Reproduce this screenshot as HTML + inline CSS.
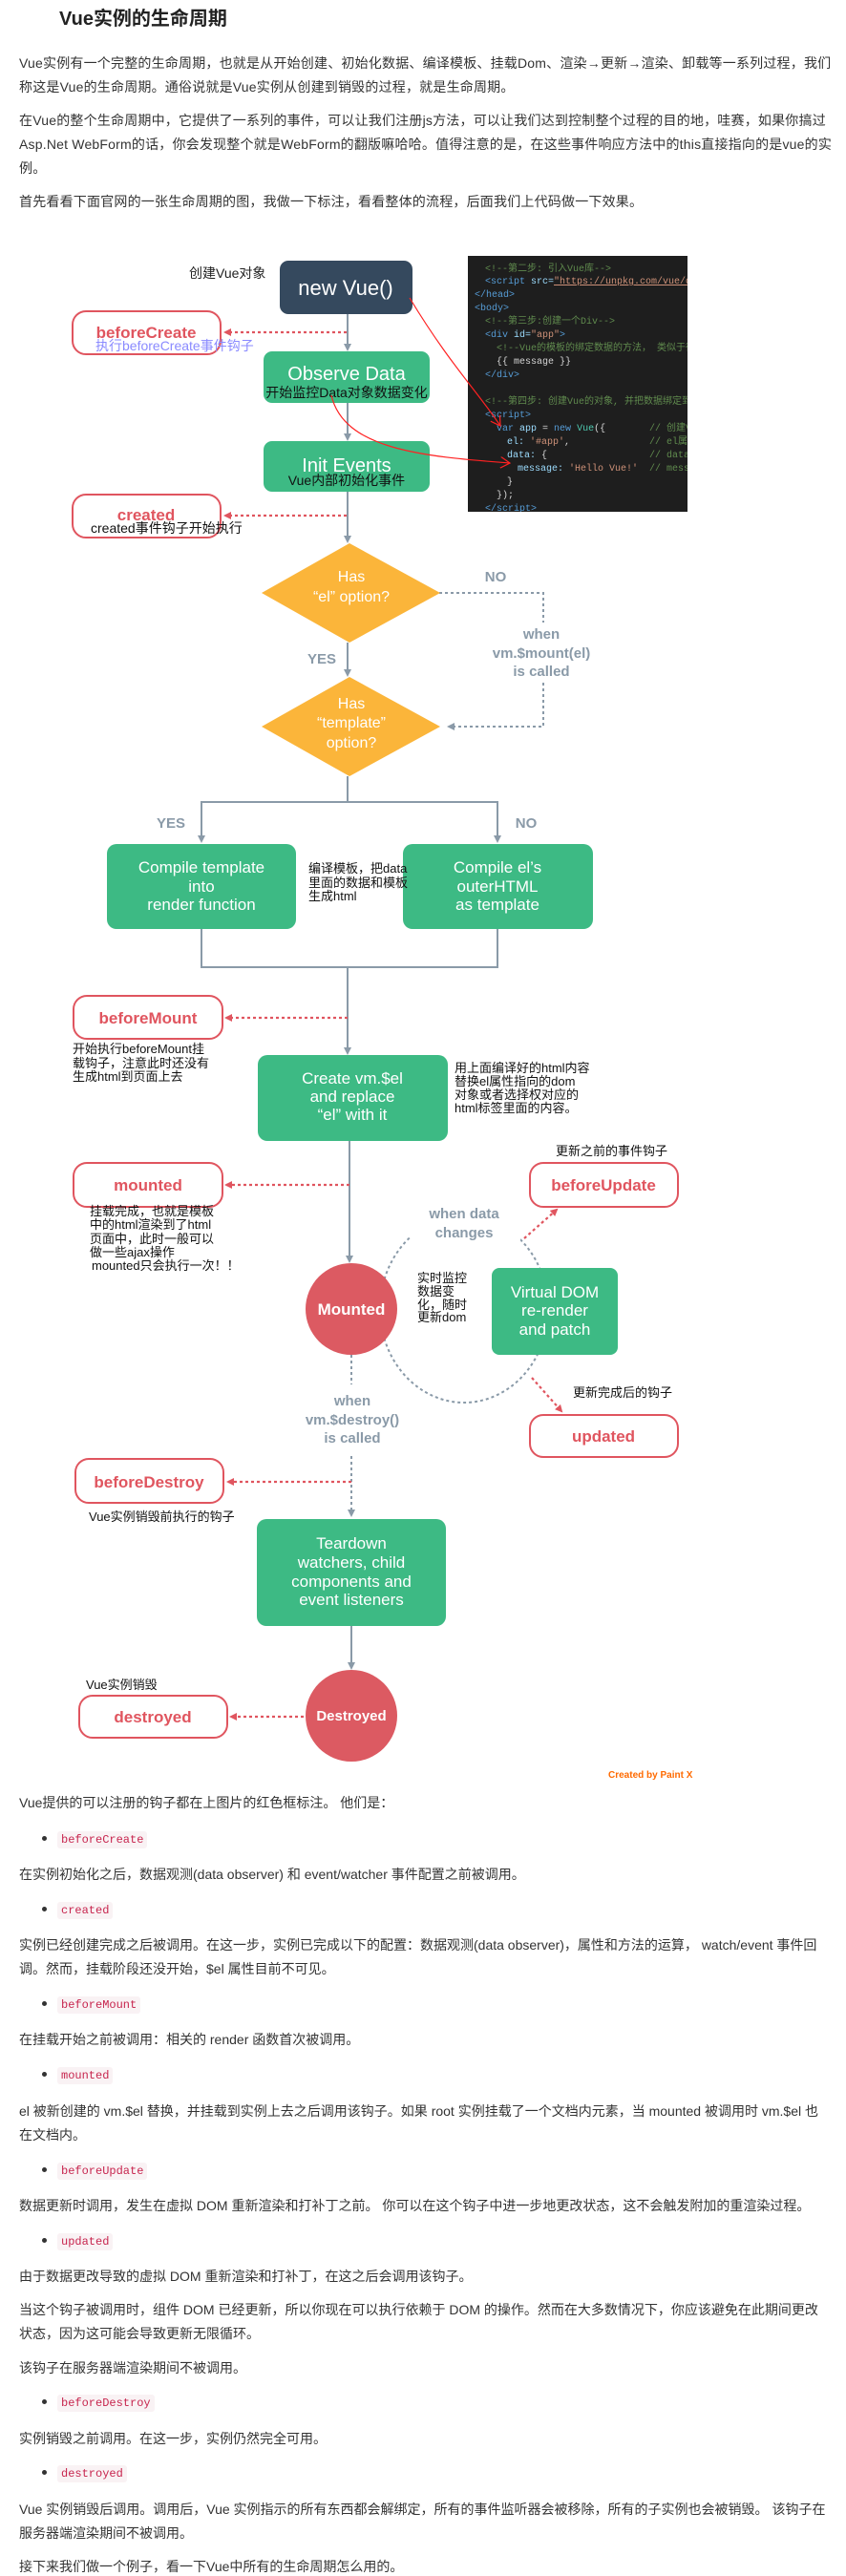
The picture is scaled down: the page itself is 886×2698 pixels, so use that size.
<!DOCTYPE html>
<html><head><meta charset="utf-8"><style>
*{margin:0;padding:0;box-sizing:border-box}
body{width:886px;height:2698px;position:relative;background:#fff;font-family:"Liberation Sans","Noto Sans CJK SC",sans-serif;color:#333;overflow:hidden}
.t{position:absolute;white-space:nowrap;line-height:20px}
.p15{font-size:14px;left:20px;letter-spacing:0.2px}
.p14{font-size:14px;left:20px}
.li{position:absolute;left:44px;font-size:14px;line-height:20px;white-space:nowrap}
.li:before{content:"";display:inline-block;width:5px;height:5px;border-radius:50%;background:#333;vertical-align:middle;margin-right:11px;margin-top:-2px}
.li code{font-family:"Liberation Mono",monospace;font-size:12px;color:#c7254e;background:#f9f2f4;padding:2px 4px;border-radius:3px}
svg text{font-family:"Liberation Sans","Noto Sans CJK SC",sans-serif}
svg .code text{font-family:"Liberation Mono","Noto Sans CJK SC",monospace;font-size:10px}
</style></head><body>
<div class="t" style="left:62px;top:8px;font-size:20px;font-weight:bold;line-height:24px;color:#222">Vue实例的生命周期</div>
<div class="t p15" style="top:56px">Vue实例有一个完整的生命周期，也就是从开始创建、初始化数据、编译模板、挂载Dom、渲染→更新→渲染、卸载等一系列过程，我们</div>
<div class="t p15" style="top:81px">称这是Vue的生命周期。通俗说就是Vue实例从创建到销毁的过程，就是生命周期。</div>
<div class="t p15" style="top:116px">在Vue的整个生命周期中，它提供了一系列的事件，可以让我们注册js方法，可以让我们达到控制整个过程的目的地，哇赛，如果你搞过</div>
<div class="t p15" style="top:141px">Asp.Net WebForm的话，你会发现整个就是WebForm的翻版嘛哈哈。值得注意的是，在这些事件响应方法中的this直接指向的是vue的实</div>
<div class="t p15" style="top:166px">例。</div>
<div class="t p15" style="top:201px">首先看看下面官网的一张生命周期的图，我做一下标注，看看整体的流程，后面我们上代码做一下效果。</div>

<svg style="position:absolute;left:0;top:0" width="886" height="1870" viewBox="0 0 886 1870">
<defs>
<marker id="ag" markerWidth="8" markerHeight="8" refX="6" refY="4" orient="auto" markerUnits="userSpaceOnUse"><path d="M0,0 L8,4 L0,8 z" fill="#8a9aa8"/></marker>
<marker id="ar" markerWidth="8" markerHeight="8" refX="6" refY="4" orient="auto" markerUnits="userSpaceOnUse"><path d="M0,0 L8,4 L0,8 z" fill="#e0555f"/></marker>
<marker id="ax" markerWidth="12" markerHeight="12" refX="10" refY="6" orient="auto" markerUnits="userSpaceOnUse"><path d="M0,0 L10,6 L0,12" fill="none" stroke="#f22" stroke-width="1.2"/></marker>
<clipPath id="cp"><rect x="490" y="268" width="230" height="268"/></clipPath>
</defs>
<rect x="490" y="268" width="230" height="268" fill="#1e1e1e"/>
<g class="code" clip-path="url(#cp)">
<text x="508" y="284" fill="#608b4e">&lt;!--第二步: 引入Vue库--&gt;</text>
<text x="508" y="297" fill="#569cd6">&lt;script <tspan fill="#9cdcfe">src=</tspan><tspan fill="#ce9178" text-decoration="underline">"https://unpkg.com/vue/dist/vue.js"</tspan></text>
<text x="497" y="311" fill="#569cd6">&lt;/head&gt;</text>
<text x="497" y="325" fill="#569cd6">&lt;body&gt;</text>
<text x="508" y="339" fill="#608b4e">&lt;!--第三步:创建一个Div--&gt;</text>
<text x="508" y="353" fill="#569cd6">&lt;div <tspan fill="#9cdcfe">id=</tspan><tspan fill="#ce9178">"app"</tspan>&gt;</text>
<text x="520" y="367" fill="#608b4e">&lt;!--Vue的模板的绑定数据的方法， 类似于很多</text>
<text x="520" y="381" fill="#d4d4d4">{{ message }}</text>
<text x="508" y="395" fill="#569cd6">&lt;/div&gt;</text>
<text x="508" y="423" fill="#608b4e">&lt;!--第四步: 创建Vue的对象, 并把数据绑定到上面</text>
<text x="508" y="437" fill="#569cd6">&lt;script&gt;</text>
<text x="520" y="451" fill="#569cd6">var <tspan fill="#9cdcfe">app</tspan><tspan fill="#d4d4d4"> = </tspan>new <tspan fill="#4ec9b0">Vue</tspan><tspan fill="#d4d4d4">({</tspan></text>
<text x="680" y="451" fill="#608b4e">// 创建Vue</text>
<text x="531" y="465" fill="#9cdcfe">el: <tspan fill="#ce9178">'#app'</tspan><tspan fill="#d4d4d4">,</tspan></text>
<text x="680" y="465" fill="#608b4e">// el属性</text>
<text x="531" y="479" fill="#9cdcfe">data: <tspan fill="#d4d4d4">{</tspan></text>
<text x="680" y="479" fill="#608b4e">// data:</text>
<text x="542" y="493" fill="#9cdcfe">message: <tspan fill="#ce9178">'Hello Vue!'</tspan></text>
<text x="680" y="493" fill="#608b4e">// message</text>
<text x="531" y="507" fill="#d4d4d4">}</text>
<text x="520" y="521" fill="#d4d4d4">});</text>
<text x="508" y="535" fill="#569cd6">&lt;/script&gt;</text>
</g>

<g stroke="#8a9aa8" stroke-width="2" fill="none">
<line x1="364" y1="329" x2="364" y2="366" marker-end="url(#ag)"/>
<line x1="364" y1="422" x2="364" y2="460" marker-end="url(#ag)"/>
<line x1="364" y1="515" x2="364" y2="567" marker-end="url(#ag)"/>
<line x1="364" y1="673" x2="364" y2="707" marker-end="url(#ag)"/>
<polyline points="364,813 364,840 211,840 211,881" marker-end="url(#ag)"/>
<polyline points="364,840 521,840 521,881"  marker-end="url(#ag)"/>
<polyline points="211,973 211,1013 521,1013 521,973"/>
<line x1="364" y1="1013" x2="364" y2="1103" marker-end="url(#ag)"/>
<line x1="366" y1="1195" x2="366" y2="1321" marker-end="url(#ag)"/>
<line x1="368" y1="1703" x2="368" y2="1747" marker-end="url(#ag)"/>
</g>
<g stroke="#8a9aa8" stroke-width="2" fill="none" stroke-dasharray="3,3">
<polyline points="460,621 569,621 569,652"/>
<polyline points="569,715 569,761 470,761" marker-end="url(#ag)"/>
<line x1="368" y1="1419" x2="368" y2="1450"/>
<line x1="368" y1="1525" x2="368" y2="1587" marker-end="url(#ag)"/>
<ellipse cx="486" cy="1371" rx="88" ry="98"/>
</g>
<rect x="430" y="1258" width="115" height="44" fill="#fff"/>

<g stroke="#e0555f" stroke-width="2.2" fill="none" stroke-dasharray="3,3">
<line x1="363" y1="348" x2="236" y2="348" marker-end="url(#ar)"/>
<line x1="363" y1="540" x2="236" y2="540" marker-end="url(#ar)"/>
<line x1="364" y1="1066" x2="237" y2="1066" marker-end="url(#ar)"/>
<line x1="366" y1="1241" x2="237" y2="1241" marker-end="url(#ar)"/>
<line x1="368" y1="1552" x2="239" y2="1552" marker-end="url(#ar)"/>
<line x1="318" y1="1798" x2="242" y2="1798" marker-end="url(#ar)"/>
<line x1="549" y1="1297" x2="583" y2="1267" marker-end="url(#ar)"/>
<line x1="557" y1="1443" x2="588" y2="1478" marker-end="url(#ar)"/>
</g>

<rect x="293" y="273" width="139" height="56" rx="9" fill="#35495e"/>
<text x="362" y="309" fill="#fff" font-size="22" text-anchor="middle">new Vue()</text>
<text x="198" y="291" fill="#222" font-size="14">创建Vue对象</text>

<rect x="76" y="326" width="155" height="45" rx="14" fill="#fff" stroke="#e0555f" stroke-width="2"/>
<text x="153" y="354" fill="#e0555f" font-size="17" font-weight="bold" text-anchor="middle">beforeCreate</text>
<text x="100" y="367" fill="#8a8aff" font-size="14">执行beforeCreate事件钩子</text>

<rect x="276" y="368" width="174" height="54" rx="9" fill="#3dba84"/>
<text x="363" y="398" fill="#fff" font-size="20" text-anchor="middle">Observe Data</text>
<text x="363" y="416" fill="#111" font-size="14" text-anchor="middle">开始监控Data对象数据变化</text>

<rect x="276" y="462" width="174" height="53" rx="9" fill="#3dba84"/>
<text x="363" y="494" fill="#fff" font-size="20" text-anchor="middle">Init Events</text>
<text x="363" y="508" fill="#111" font-size="14" text-anchor="middle">Vue内部初始化事件</text>

<rect x="76" y="518" width="155" height="45" rx="14" fill="#fff" stroke="#e0555f" stroke-width="2"/>
<text x="153" y="545" fill="#e0555f" font-size="17" font-weight="bold" text-anchor="middle">created</text>
<text x="95" y="558" fill="#111" font-size="14">created事件钩子开始执行</text>

<polygon points="366,569 461,621 366,673 274,621" fill="#fbb53a"/>
<g fill="#fff" font-size="16" text-anchor="middle">
<text x="368" y="609">Has</text><text x="368" y="630">“el” option?</text>
</g>
<polygon points="366,709 461,761 366,813 274,761" fill="#fbb53a"/>
<g fill="#fff" font-size="16" text-anchor="middle">
<text x="368" y="742">Has</text><text x="368" y="762">“template”</text><text x="368" y="783">option?</text>
</g>
<g fill="#8a9aa8" font-size="15" font-weight="bold" text-anchor="middle">
<text x="519" y="609">NO</text><text x="337" y="695">YES</text>
<text x="567" y="669">when</text><text x="567" y="689">vm.$mount(el)</text><text x="567" y="708">is called</text>
<text x="179" y="867">YES</text><text x="551" y="867">NO</text>
<text x="486" y="1276">when data</text><text x="486" y="1296">changes</text>
<text x="369" y="1472">when</text><text x="369" y="1492">vm.$destroy()</text><text x="369" y="1511">is called</text>
</g>

<rect x="112" y="884" width="198" height="89" rx="10" fill="#3dba84"/>
<g fill="#fff" font-size="17" text-anchor="middle">
<text x="211" y="914">Compile template</text><text x="211" y="934">into</text><text x="211" y="953">render function</text>
</g>
<rect x="422" y="884" width="199" height="89" rx="10" fill="#3dba84"/>
<g fill="#fff" font-size="17" text-anchor="middle">
<text x="521" y="914">Compile el’s</text><text x="521" y="934">outerHTML</text><text x="521" y="953">as template</text>
</g>
<g fill="#111" font-size="13">
<text x="323" y="914">编译模板，把data</text><text x="323" y="929">里面的数据和模板</text><text x="323" y="943">生成html</text>
</g>

<rect x="77" y="1043" width="156" height="45" rx="14" fill="#fff" stroke="#e0555f" stroke-width="2"/>
<text x="155" y="1072" fill="#e0555f" font-size="17" font-weight="bold" text-anchor="middle">beforeMount</text>
<g fill="#111" font-size="13">
<text x="76" y="1103">开始执行beforeMount挂</text><text x="76" y="1118">载钩子，注意此时还没有</text><text x="76" y="1132">生成html到页面上去</text>
</g>

<rect x="270" y="1105" width="199" height="90" rx="10" fill="#3dba84"/>
<g fill="#fff" font-size="17" text-anchor="middle">
<text x="369" y="1135">Create vm.$el</text><text x="369" y="1154">and replace</text><text x="369" y="1173">“el” with it</text>
</g>
<g fill="#111" font-size="13">
<text x="476" y="1123">用上面编译好的html内容</text><text x="476" y="1137">替换el属性指向的dom</text><text x="476" y="1151">对象或者选择权对应的</text><text x="476" y="1165">html标签里面的内容。</text>
</g>

<rect x="77" y="1218" width="156" height="46" rx="14" fill="#fff" stroke="#e0555f" stroke-width="2"/>
<text x="155" y="1247" fill="#e0555f" font-size="17" font-weight="bold" text-anchor="middle">mounted</text>
<g fill="#111" font-size="13">
<text x="94" y="1273">挂载完成，也就是模板</text><text x="94" y="1287">中的html渲染到了html</text><text x="94" y="1302">页面中，此时一般可以</text><text x="94" y="1316">做一些ajax操作</text><text x="96" y="1330">mounted只会执行一次！！</text>
</g>

<circle cx="368" cy="1371" r="48" fill="#dc5a62"/>
<text x="368" y="1377" fill="#fff" font-size="17" font-weight="bold" text-anchor="middle">Mounted</text>
<g fill="#111" font-size="13">
<text x="437" y="1343">实时监控</text><text x="437" y="1357">数据变</text><text x="437" y="1371">化，随时</text><text x="437" y="1384">更新dom</text>
</g>
<rect x="515" y="1328" width="132" height="91" rx="8" fill="#3dba84"/>
<g fill="#fff" font-size="17" text-anchor="middle">
<text x="581" y="1359">Virtual DOM</text><text x="581" y="1378">re-render</text><text x="581" y="1398">and patch</text>
</g>

<rect x="555" y="1218" width="155" height="46" rx="14" fill="#fff" stroke="#e0555f" stroke-width="2"/>
<text x="632" y="1247" fill="#e0555f" font-size="17" font-weight="bold" text-anchor="middle">beforeUpdate</text>
<text x="582" y="1210" fill="#111" font-size="13">更新之前的事件钩子</text>
<rect x="555" y="1482" width="155" height="44" rx="14" fill="#fff" stroke="#e0555f" stroke-width="2"/>
<text x="632" y="1510" fill="#e0555f" font-size="17" font-weight="bold" text-anchor="middle">updated</text>
<text x="600" y="1463" fill="#111" font-size="13">更新完成后的钩子</text>

<rect x="79" y="1528" width="155" height="46" rx="14" fill="#fff" stroke="#e0555f" stroke-width="2"/>
<text x="156" y="1558" fill="#e0555f" font-size="17" font-weight="bold" text-anchor="middle">beforeDestroy</text>
<text x="93" y="1593" fill="#111" font-size="13">Vue实例销毁前执行的钩子</text>

<rect x="269" y="1591" width="198" height="112" rx="10" fill="#3dba84"/>
<g fill="#fff" font-size="17" text-anchor="middle">
<text x="368" y="1622">Teardown</text><text x="368" y="1642">watchers, child</text><text x="368" y="1662">components and</text><text x="368" y="1681">event listeners</text>
</g>

<circle cx="368" cy="1797" r="48" fill="#dc5a62"/>
<text x="368" y="1802" fill="#fff" font-size="15" font-weight="bold" text-anchor="middle">Destroyed</text>
<rect x="83" y="1776" width="155" height="44" rx="14" fill="#fff" stroke="#e0555f" stroke-width="2"/>
<text x="160" y="1804" fill="#e0555f" font-size="17" font-weight="bold" text-anchor="middle">destroyed</text>
<text x="90" y="1769" fill="#111" font-size="13">Vue实例销毁</text>
<text x="637" y="1862" fill="#ff6a00" font-size="10" font-weight="bold">Created by Paint X</text>

<path d="M429,312 C470,380 500,410 524,446" stroke="#f22" stroke-width="1.2" fill="none" marker-end="url(#ax)"/>
<path d="M347,414 C360,470 440,478 534,485" stroke="#f22" stroke-width="1.2" fill="none" marker-end="url(#ax)"/>
</svg>

<div class="t p14" style="top:1878px">Vue提供的可以注册的钩子都在上图片的红色框标注。 他们是：</div>
<div class="li" style="top:1915px"><code>beforeCreate</code></div>
<div class="t p14" style="top:1953px">在实例初始化之后，数据观测(data observer) 和 event/watcher 事件配置之前被调用。</div>
<div class="li" style="top:1989px"><code>created</code></div>
<div class="t p14" style="top:2027px">实例已经创建完成之后被调用。在这一步，实例已完成以下的配置：数据观测(data observer)，属性和方法的运算， watch/event 事件回</div>
<div class="t p14" style="top:2052px">调。然而，挂载阶段还没开始，$el 属性目前不可见。</div>
<div class="li" style="top:2088px"><code>beforeMount</code></div>
<div class="t p14" style="top:2126px">在挂载开始之前被调用：相关的 render 函数首次被调用。</div>
<div class="li" style="top:2162px"><code>mounted</code></div>
<div class="t p14" style="top:2201px">el 被新创建的 vm.$el 替换，并挂载到实例上去之后调用该钩子。如果 root 实例挂载了一个文档内元素，当 mounted 被调用时 vm.$el 也</div>
<div class="t p14" style="top:2226px">在文档内。</div>
<div class="li" style="top:2262px"><code>beforeUpdate</code></div>
<div class="t p14" style="top:2300px">数据更新时调用，发生在虚拟 DOM 重新渲染和打补丁之前。 你可以在这个钩子中进一步地更改状态，这不会触发附加的重渲染过程。</div>
<div class="li" style="top:2336px"><code>updated</code></div>
<div class="t p14" style="top:2374px">由于数据更改导致的虚拟 DOM 重新渲染和打补丁，在这之后会调用该钩子。</div>
<div class="t p14" style="top:2409px">当这个钩子被调用时，组件 DOM 已经更新，所以你现在可以执行依赖于 DOM 的操作。然而在大多数情况下，你应该避免在此期间更改</div>
<div class="t p14" style="top:2434px">状态，因为这可能会导致更新无限循环。</div>
<div class="t p14" style="top:2470px">该钩子在服务器端渲染期间不被调用。</div>
<div class="li" style="top:2505px"><code>beforeDestroy</code></div>
<div class="t p14" style="top:2544px">实例销毁之前调用。在这一步，实例仍然完全可用。</div>
<div class="li" style="top:2579px"><code>destroyed</code></div>
<div class="t p14" style="top:2618px">Vue 实例销毁后调用。调用后，Vue 实例指示的所有东西都会解绑定，所有的事件监听器会被移除，所有的子实例也会被销毁。 该钩子在</div>
<div class="t p14" style="top:2643px">服务器端渲染期间不被调用。</div>
<div class="t p14" style="top:2678px">接下来我们做一个例子，看一下Vue中所有的生命周期怎么用的。</div>
</body></html>
